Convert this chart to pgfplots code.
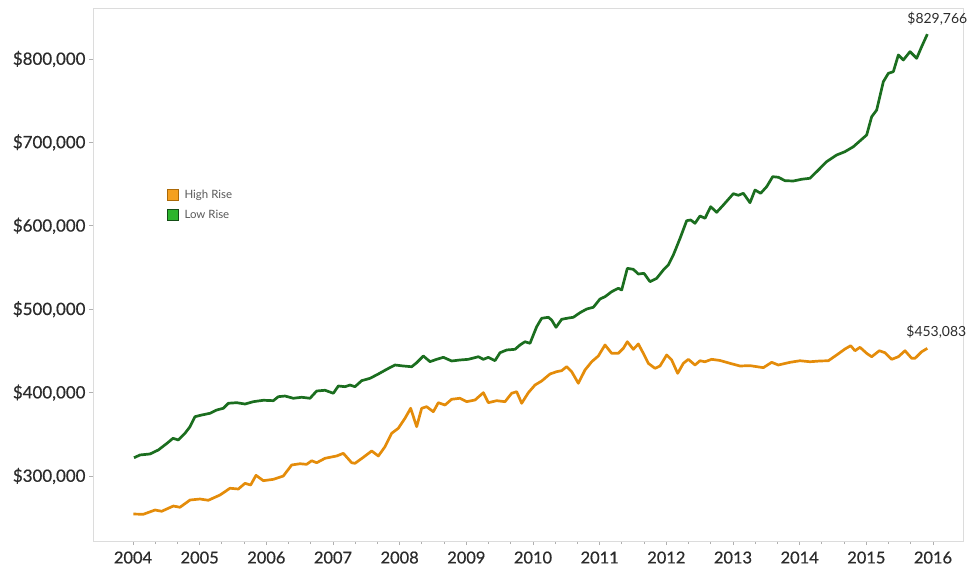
\documentclass[border=0pt]{standalone}
\usepackage{fontspec}
\setmainfont{Lato}
\newfontfamily\tickfont{Lato}[FakeBold=0.6]
\usepackage{pgfplots}
\pgfplotsset{compat=1.18}
\definecolor{hrline}{HTML}{E48C0A}
\definecolor{lrline}{HTML}{1B6E1F}
\definecolor{hrbox}{HTML}{F5A01E}
\definecolor{lrbox}{HTML}{2DB52D}
\definecolor{framec}{HTML}{DCDCDC}
\definecolor{lbl}{HTML}{2B2B2B}
\begin{document}
\begin{tikzpicture}
\begin{axis}[name=ax,
  scale only axis, width=870bp, height=533bp,
  xmin=2003.4, xmax=2016.45, ymin=222.06, ymax=861.15,
  clip=false,
  axis line style={framec, line width=0.9bp},
  xtick={2004,2005,2006,2007,2008,2009,2010,2011,2012,2013,2014,2015,2016},
  xticklabels={2004,2005,2006,2007,2008,2009,2010,2011,2012,2013,2014,2015,2016},
  ytick={300,400,500,600,700,800},
  yticklabels={{\$300,000},{\$400,000},{\$500,000},{\$600,000},{\$700,000},{\$800,000}},
  minor x tick num=2,
  xtick pos=lower, ytick pos=left,
  tick align=outside, major tick length=4bp, minor tick length=3bp,
  tick style={framec!80!black, line width=0.8bp},
  tick label style={font=\tickfont\fontsize{16.5}{18}\selectfont, text=lbl},
  yticklabel style={font=\tickfont\fontsize{17}{18}\selectfont},
  xticklabel style={yshift=-3bp},
  legend style={at={(0.084,0.664)}, anchor=north west, draw=none, fill=none,
    font=\fontsize{11.5}{13}\selectfont, text=gray!70!black, row sep=6bp, inner sep=1bp},
  legend cell align=left,
  legend image code/.code={\filldraw[#1] (0bp,-5.5bp) rectangle (11bp,5.5bp); \path[draw=none,fill=none] (0bp,0bp) rectangle (15bp,0.1bp);},
]
\addlegendimage{fill=hrbox, draw=hrline!75!black, line width=0.6bp}
\addlegendentry{High Rise}
\addlegendimage{fill=lrbox, draw=lrline!70!black, line width=0.6bp}
\addlegendentry{Low Rise}

\addplot[hrline, line width=2.7bp, line join=round, forget plot] coordinates {
(2004.005,254.4)(2004.155,254.1)(2004.33,259.2)(2004.43,257.7)(2004.605,264.0)(2004.705,262.5)
(2004.855,271.2)(2005.005,272.4)(2005.13,270.9)(2005.305,277.2)(2005.455,285.3)(2005.58,284.4)
(2005.68,291.2)(2005.765,289.2)(2005.845,300.8)(2005.955,294.4)(2006.105,296.0)(2006.255,300.0)
(2006.38,313.2)(2006.505,314.7)(2006.605,314.0)(2006.68,318.3)(2006.755,315.9)(2006.88,321.2)
(2007.055,324.0)(2007.155,327.2)(2007.28,315.9)(2007.33,315.2)(2007.455,322.4)(2007.58,330.0)
(2007.68,324.0)(2007.78,335.1)(2007.88,351.2)(2007.98,357.2)(2008.08,369.2)(2008.165,381.2)
(2008.255,359.1)(2008.33,381.2)(2008.405,383.1)(2008.505,377.1)(2008.58,387.9)(2008.68,385.1)
(2008.78,392.0)(2008.905,393.2)(2009.005,389.1)(2009.13,391.1)(2009.255,399.9)(2009.33,387.9)
(2009.455,390.3)(2009.58,389.1)(2009.68,399.2)(2009.755,401.1)(2009.83,387.2)(2009.93,399.9)
(2010.03,409.1)(2010.13,413.9)(2010.255,422.3)(2010.355,425.1)(2010.43,426.3)(2010.505,431.1)
(2010.58,425.1)(2010.68,411.2)(2010.78,427.1)(2010.88,437.0)(2010.98,443.9)(2011.08,457.1)
(2011.18,447.1)(2011.28,447.1)(2011.355,453.1)(2011.415,461.0)(2011.505,451.9)(2011.58,458.3)
(2011.655,447.1)(2011.73,435.1)(2011.83,429.1)(2011.905,431.9)(2012.005,445.1)(2012.08,439.1)
(2012.17,423.1)(2012.255,435.1)(2012.33,439.9)(2012.43,433.1)(2012.505,438.2)(2012.58,437.0)
(2012.68,439.9)(2012.805,438.5)(2012.955,435.1)(2013.105,431.9)(2013.255,432.3)(2013.455,429.9)
(2013.58,436.3)(2013.68,433.1)(2013.855,436.3)(2014.005,438.2)(2014.155,437.0)(2014.305,437.9)
(2014.43,438.2)(2014.555,445.1)(2014.68,452.3)(2014.765,456.2)(2014.83,450.2)(2014.905,454.3)
(2015.005,447.1)(2015.08,443.0)(2015.195,450.2)(2015.28,447.8)(2015.38,439.9)(2015.48,443.0)
(2015.58,450.2)(2015.68,441.1)(2015.73,441.1)(2015.83,449.0)(2015.915,453.083)
};
\addplot[lrline, line width=2.7bp, line join=round, forget plot] coordinates {
(2004.015,321.9)(2004.105,325.2)(2004.255,326.4)(2004.38,331.2)(2004.51,339.2)(2004.60,345.2)
(2004.68,343.2)(2004.78,351.2)(2004.855,359.1)(2004.93,371.1)(2005.03,373.1)(2005.155,375.2)
(2005.255,379.1)(2005.355,381.2)(2005.43,387.2)(2005.555,387.9)(2005.68,386.3)(2005.805,389.1)
(2005.955,390.8)(2006.105,390.3)(2006.18,395.1)(2006.28,395.9)(2006.405,393.2)(2006.53,394.4)
(2006.655,393.2)(2006.755,401.9)(2006.88,402.8)(2007.005,399.2)(2007.08,407.9)(2007.18,407.1)
(2007.255,409.1)(2007.33,407.1)(2007.43,414.3)(2007.555,417.1)(2007.68,422.3)(2007.805,427.9)
(2007.93,433.1)(2008.055,431.9)(2008.18,431.0)(2008.255,435.8)(2008.355,443.9)(2008.455,437.1)
(2008.555,439.9)(2008.655,442.3)(2008.78,437.9)(2008.905,439.1)(2009.03,439.9)(2009.18,443.0)
(2009.255,439.9)(2009.33,442.3)(2009.43,438.3)(2009.505,447.8)(2009.605,451.1)(2009.73,451.9)
(2009.805,457.1)(2009.88,461.0)(2009.955,459.1)(2010.055,479.0)(2010.13,489.1)(2010.23,490.3)
(2010.28,487.0)(2010.345,478.3)(2010.43,487.9)(2010.53,489.4)(2010.605,490.3)(2010.705,495.8)
(2010.805,500.2)(2010.905,502.3)(2011.005,512.2)(2011.08,515.0)(2011.18,521.0)(2011.28,525.1)
(2011.33,523.0)(2011.415,549.0)(2011.505,547.8)(2011.58,542.2)(2011.665,543.0)(2011.755,533.0)
(2011.855,537.0)(2011.955,547.0)(2012.03,553.0)(2012.105,565.0)(2012.205,584.8)(2012.305,606.1)
(2012.365,607.0)(2012.43,603.0)(2012.505,611.8)(2012.58,609.0)(2012.665,622.9)(2012.755,616.2)
(2012.855,624.9)(2013.005,638.5)(2013.08,636.6)(2013.155,639.0)(2013.255,627.7)(2013.33,642.9)
(2013.415,639.0)(2013.505,646.9)(2013.595,658.9)(2013.68,658.2)(2013.78,654.1)(2013.905,653.7)
(2014.03,655.8)(2014.155,657.0)(2014.255,664.9)(2014.405,676.9)(2014.555,684.9)(2014.68,688.9)
(2014.805,694.8)(2015.005,708.9)(2015.08,730.8)(2015.155,738.8)(2015.255,772.8)(2015.33,782.8)
(2015.405,784.8)(2015.48,804.8)(2015.555,798.8)(2015.655,808.8)(2015.755,800.8)(2015.83,814.8)
(2015.915,829.766)
};
\node[anchor=south, xshift=10bp, yshift=5bp, font=\fontsize{14}{16}\selectfont, text=lbl]
  at (axis cs:2015.915,829.766) {\$829,766};
\node[anchor=south, xshift=9bp, yshift=6bp, font=\fontsize{14}{16}\selectfont, text=lbl]
  at (axis cs:2015.915,453.083) {\$453,083};
\end{axis}
\pgfresetboundingbox
\useasboundingbox (ax.south west) ++(-93bp,-26bp) rectangle ++(969bp,567bp);
\end{tikzpicture}
\end{document}
